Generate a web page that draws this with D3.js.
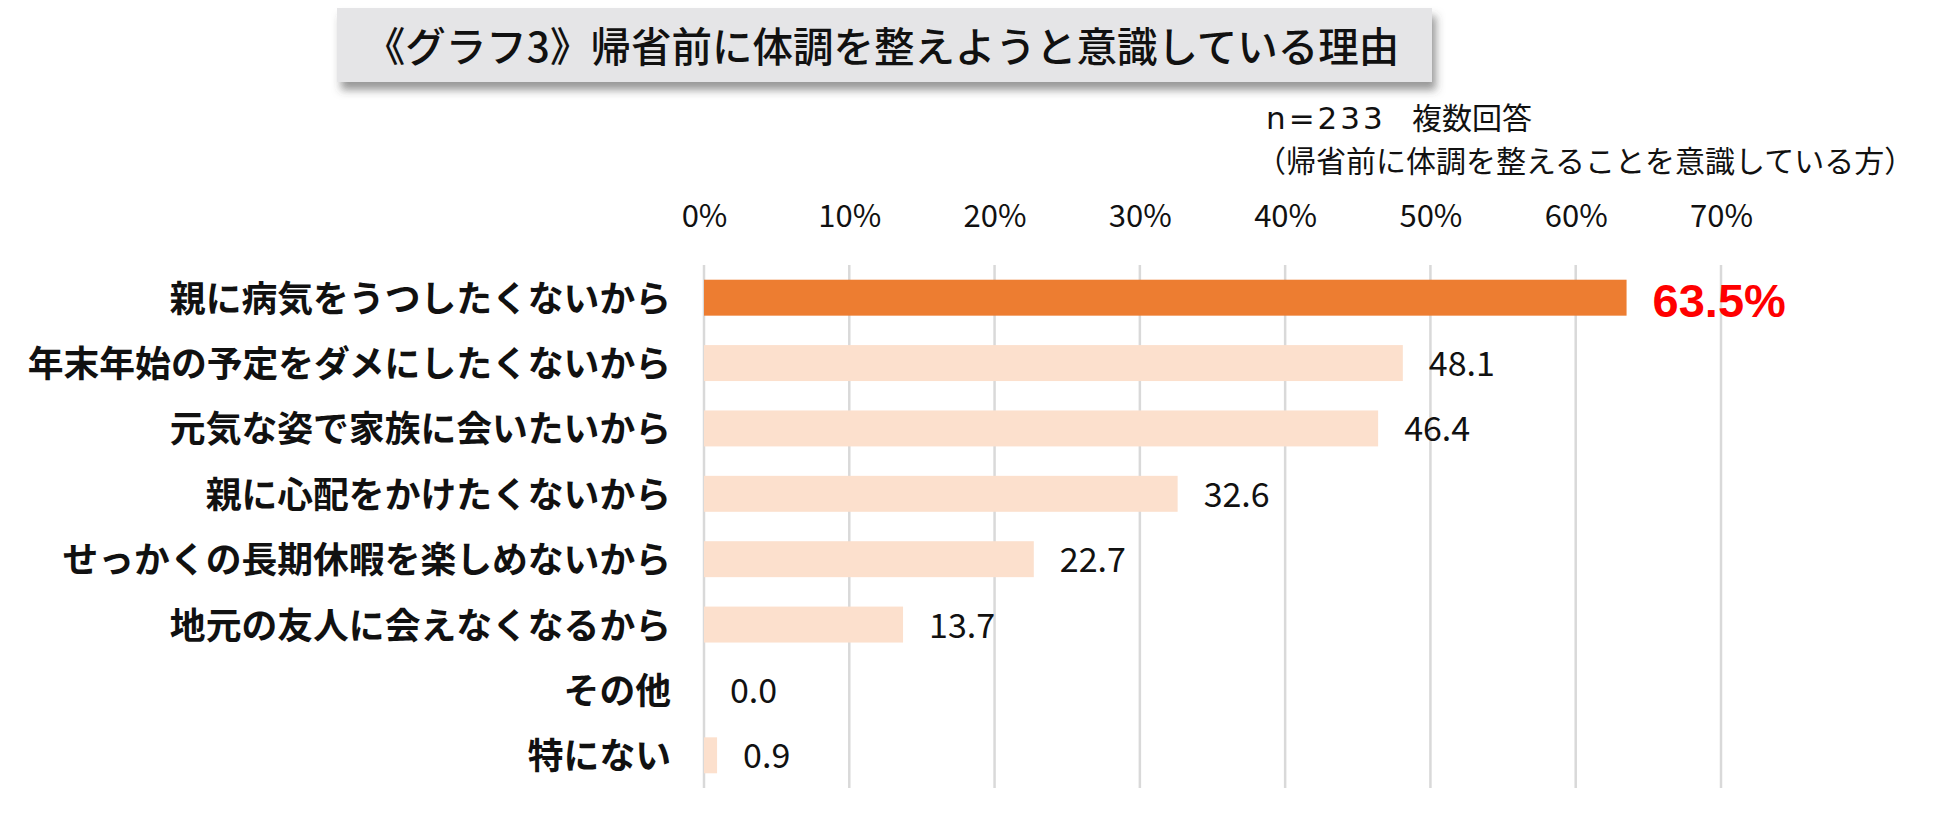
<!DOCTYPE html>
<html><head><meta charset="utf-8">
<script src="https://cdn.jsdelivr.net/npm/d3@7"></script>
<style>
html,body{margin:0;padding:0;background:#fff;}
svg{display:block;}
</style></head>
<body>
<script>
const categories = ["親に病気をうつしたくないから","年末年始の予定をダメにしたくないから","元気な姿で家族に会いたいから","親に心配をかけたくないから","せっかくの長期休暇を楽しめないから","地元の友人に会えなくなるから","その他","特にない"];
const values = [63.5, 48.1, 46.4, 32.6, 22.7, 13.7, 0.0, 0.9];
const ticks = [0, 10, 20, 30, 40, 50, 60, 70];
const titleText = "《グラフ3》帰省前に体調を整えようと意識している理由";
const noteSample = "n=233";
const noteAnswer = "複数回答";
const noteScope = "（帰省前に体調を整えることを意識している方）";

const W = 1950, H = 833;
const svg = d3.select("body").append("svg").attr("width", W).attr("height", H);
const jp = "'Noto Sans CJK JP','Noto Sans',sans-serif";

const defs = svg.append("defs");
const f = defs.append("filter").attr("id","sh").attr("x","-5%").attr("y","-30%").attr("width","115%").attr("height","180%");
f.append("feDropShadow").attr("dx",4).attr("dy",8).attr("stdDeviation",4).attr("flood-color","#444").attr("flood-opacity",0.55);

// Title box
svg.append("rect").attr("x",337).attr("y",8).attr("width",1095).attr("height",74)
  .attr("fill","#e5e5e7").attr("filter","url(#sh)");
svg.append("text").attr("x",882).attr("y",62).attr("text-anchor","middle")
  .attr("font-family",jp).attr("font-weight",500).attr("font-size",40.5).attr("fill","#111")
  .text(titleText);

// Notes
const n1 = svg.append("text").attr("x",1266).attr("y",129)
  .attr("font-family",jp).attr("font-size",30).attr("fill","#111");
n1.append("tspan").attr("font-family","'DejaVu Sans',sans-serif").attr("font-size",31).attr("letter-spacing",3).text(noteSample);
n1.append("tspan").attr("x",1412).text(noteAnswer);
svg.append("text").attr("x",1256).attr("y",172)
  .attr("font-family",jp).attr("font-size",30).attr("fill","#111").text(noteScope);

const x = d3.scaleLinear().domain([0,70]).range([704,1721]);
const y = d3.scaleBand().domain(categories).range([265,788]).paddingInner(0.45).paddingOuter(0.225);

// gridlines
svg.append("g").selectAll("line").data(ticks).join("line")
  .attr("x1",d=>x(d)).attr("x2",d=>x(d)).attr("y1",265).attr("y2",788)
  .attr("stroke","#d9d9d9").attr("stroke-width",2.5);

// top axis labels
const ax = svg.append("g").attr("transform","translate(0,227)")
  .call(d3.axisTop(x).tickValues(ticks).tickFormat(d=>d+"%").tickSize(0).tickPadding(0));
ax.select(".domain").remove();
ax.selectAll("text").attr("font-family",jp).attr("font-size",31).attr("fill","#111").attr("dy",0);

// bars
svg.append("g").selectAll("rect").data(values).join("rect")
  .attr("x",x(0)).attr("y",(d,i)=>y(categories[i]))
  .attr("width",d=>x(d)-x(0)).attr("height",y.bandwidth())
  .attr("fill",(d,i)=> i===0 ? "#ED7D31" : "#FCE0CD");

// category labels
svg.append("g").selectAll("text").data(categories).join("text")
  .attr("x",671).attr("y",d=>y(d)+y.bandwidth()/2-2)
  .attr("text-anchor","end").attr("dominant-baseline","central")
  .attr("font-family",jp).attr("font-weight",700).attr("font-size",35.8).attr("fill","#111")
  .text(d=>d);

// value labels
svg.append("g").selectAll("text").data(values).join("text")
  .attr("x",d=>x(d)+(26))
  .attr("y",(d,i)=>y(categories[i])+y.bandwidth()/2 + (i===0 ? 19 : 13))
  .attr("font-family",(d,i)=> i===0 ? "'Liberation Sans',Arial,sans-serif" : jp)
  .attr("font-weight",(d,i)=> i===0 ? 700 : 400)
  .attr("font-size",(d,i)=> i===0 ? 47 : 34)
  .attr("fill",(d,i)=> i===0 ? "#FF0000" : "#111")
  .text((d,i)=> i===0 ? d.toFixed(1)+"%" : d.toFixed(1));
</script>
</body></html>
